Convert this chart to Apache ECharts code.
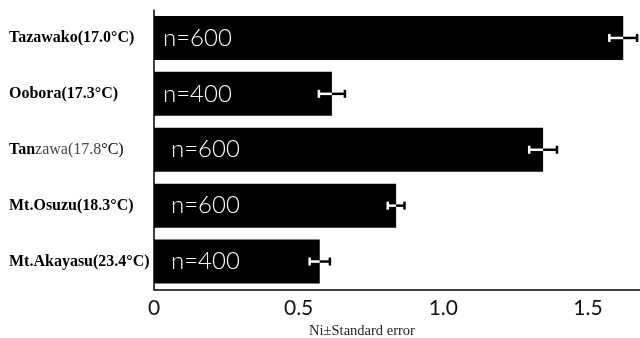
<!DOCTYPE html>
<html>
<head>
<meta charset="utf-8">
<script src="https://cdn.jsdelivr.net/npm/echarts@6/dist/echarts.min.js"></script>
<style>
  html, body { margin: 0; padding: 0; background: #fff; }
  #chart { width: 640px; height: 338px; }
</style>
</head>
<body>
<div id="chart"></div>
<script>
// Sites (top to bottom) with mean annual temperature
const sites = ['Tazawako(17.0°C)', 'Oobora(17.3°C)', 'Tanzawa(17.8°C)', 'Mt.Osuzu(18.3°C)', 'Mt.Akayasu(23.4°C)'];
// Mean Ni value per site
const meanNi = [1.622, 0.615, 1.345, 0.837, 0.573];
// Standard error per site
const stdErr = [0.048, 0.045, 0.048, 0.029, 0.035];
// Sample size per site
const sampleN = [600, 400, 600, 600, 400];
// X-axis tick labels
const xTicks = [0, 0.5, 1.0, 1.5];

const chart = echarts.init(document.getElementById('chart'), null, { renderer: 'canvas' });

const catAxisData = sites.slice().reverse();
const meanRev = meanNi.slice().reverse();
const errRev = stdErr.slice().reverse();
const nRev = sampleN.slice().reverse();

const serif = 'Liberation Serif';

const option = {
  animation: false,
  backgroundColor: '#fff',
  grid: { left: 154, right: 0, top: 10, bottom: 48.5, containLabel: false, outerBoundsMode: 'none' },
  xAxis: {
    type: 'value',
    min: 0,
    max: 1.68,
    interval: 0.5,
    name: 'Ni±Standard error',
    nameLocation: 'middle',
    nameGap: 33,
    nameTextStyle: {
      fontFamily: serif,
      fontSize: 14.5,
      color: '#222',
      padding: [0, 70, 0, 0]
    },
    axisLine: { show: true, lineStyle: { color: '#000', width: 1.5 } },
    axisTick: { show: false },
    splitLine: { show: false },
    axisLabel: {
      margin: 8,
      fontFamily: 'Lato',
      fontSize: 21,
      color: '#111',
      formatter: v => {
        const t = xTicks.find(x => Math.abs(x - v) < 1e-9);
        if (t === undefined) return '';
        return t === 0 ? '0' : t.toFixed(1);
      }
    }
  },
  yAxis: {
    type: 'category',
    data: catAxisData,
    axisLine: { show: true, lineStyle: { color: '#000', width: 1.5 } },
    axisTick: { show: false },
    axisLabel: {
      align: 'left',
      margin: 145,
      fontFamily: serif,
      fontSize: 16,
      fontWeight: 'bold',
      color: '#000',
      formatter: v => {
        if (v.indexOf('Tanzawa') === 0) {
          return '{b|Tan}{g|zawa(17.8}{n|°C)}';
        }
        return v;
      },
      rich: {
        b: { fontFamily: serif, fontSize: 16, fontWeight: 'bold', color: '#000' },
        g: { fontFamily: serif, fontSize: 16, fontWeight: 'normal', color: '#444' },
        n: { fontFamily: serif, fontSize: 16, fontWeight: 'normal', color: '#000' }
      }
    }
  },
  series: [
    {
      type: 'bar',
      data: meanRev.map((v, i) => ({
        value: v,
        label: { distance: i >= 3 ? 9 : 17 }
      })),
      barWidth: 44,
      itemStyle: { color: '#000' },
      label: {
        show: true,
        position: 'insideLeft',
        fontFamily: 'Lato',
        fontWeight: 300,
        fontSize: 24,
        color: '#fff',
        formatter: p => 'n=' + nRev[p.dataIndex]
      }
    },
    {
      type: 'custom',
      data: meanRev.map((v, i) => [i, v - errRev[i], v, v + errRev[i]]),
      renderItem: (params, api) => {
        const cat = api.value(0);
        const lo = api.coord([api.value(1), cat]);
        const mid = api.coord([api.value(2), cat]);
        const hi = api.coord([api.value(3), cat]);
        const y = lo[1];
        const capH = 4;
        return {
          type: 'group',
          children: [
            { type: 'line', shape: { x1: lo[0], y1: y, x2: mid[0], y2: y }, style: { stroke: '#fff', lineWidth: 2.5 } },
            { type: 'line', shape: { x1: mid[0], y1: y, x2: hi[0], y2: y }, style: { stroke: '#000', lineWidth: 2.5 } },
            { type: 'line', shape: { x1: lo[0], y1: y - capH, x2: lo[0], y2: y + capH }, style: { stroke: '#fff', lineWidth: 2.5 } },
            { type: 'line', shape: { x1: hi[0], y1: y - capH, x2: hi[0], y2: y + capH }, style: { stroke: '#000', lineWidth: 2.5 } }
          ]
        };
      },
      z: 5
    }
  ]
};

chart.setOption(option);
</script>
</body>
</html>
